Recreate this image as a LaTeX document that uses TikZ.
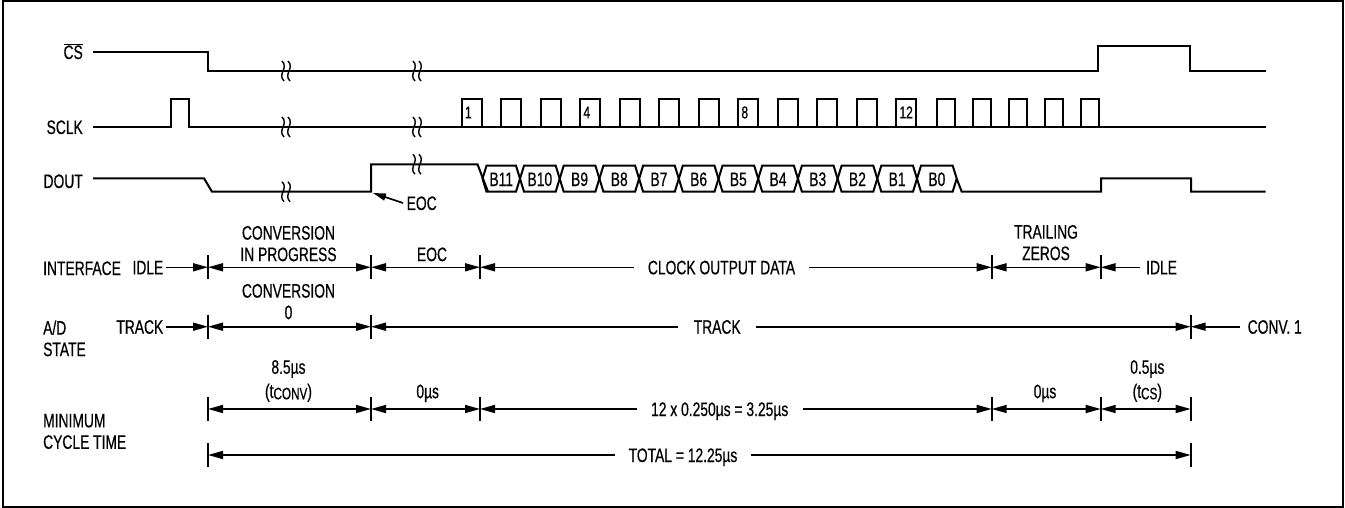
\documentclass[tikz,border=0pt]{standalone}
\usepackage{fontspec}
\setmainfont{Liberation Sans}[FakeStretch=0.71, FakeBold=0.5]
\usetikzlibrary{arrows.meta}
\newcommand\lbfont{\fontsize{19.5}{21.5}\selectfont}
\newcommand\numfont{\fontsize{17}{17}\selectfont}
\newcommand\lowcaps[1]{\raisebox{-1.5pt}{\fontsize{16.5}{16.5}\selectfont #1}}
\tikzset{
	wave/.style={line width=2pt},
	tk/.style={line width=1.6pt},
	dim/.style={line width=1.6pt, {Triangle[length=15pt,width=8pt]}-{Triangle[length=15pt,width=8pt]}},
	dimr/.style={line width=1.6pt, -{Triangle[length=15pt,width=8pt]}},
	diml/.style={line width=1.6pt, {Triangle[length=15pt,width=8pt]}-},
	lbl/.style={font=\lbfont, inner sep=0pt, text height=14pt, text depth=0pt},
	gap/.style={lbl, minimum width=#1},
	over/.style={font=\lbfont, inner sep=0pt, align=center, anchor=south},
	stack/.style={font=\lbfont, inner sep=0pt, align=left, anchor=north west},
	num/.style={font=\numfont, inner sep=0pt, anchor=base west},
}
\begin{document}
\begin{tikzpicture}[x=1pt, y=-1pt]
\useasboundingbox (0,0) rectangle (1345,508);
\draw[line width=2pt] (2.5,1.5) rectangle (1342.5,506.5);

\def\brk#1#2{% {x}{y}
	\foreach \d in {-3,3}
		\draw[line width=1.4pt] (#1-1+\d,#2-10) .. controls (#1+6+\d,#2-3) and (#1-6+\d,#2+3) .. (#1+1+\d,#2+10)
}
\def\tick#1#2{\draw[tk] (#1 |- #2) ++(0,-12) -- ++(0,24)}

% signals
\node[lbl, anchor=east] (cs) at (83,52) {$\overline{\mbox{CS}}$};
\node[lbl, anchor=east] (sclk) at (83,127) {SCLK};
\node[lbl, anchor=east] (dout) at (83,181) {DOUT};

\draw[wave] (93,52) -- (207.5,52) -- (207.5,71) -- (1098,71) -- (1098,45.7) -- (1190,45.7) -- (1190,71) -- (1265.7,71);
\draw[wave] (93,127) -- (170.7,127) -- (170.7,99) -- (189.3,99) -- (189.3,127) -- (1265.7,127);
\foreach \i in {0,...,11}
	\draw[wave] ({461.7+39.5*\i},127) |- ({481.7+39.5*\i},99) -- ++(0,28);
\foreach \i in {0,...,4}
	\draw[wave] ({937.3+36*\i},127) |- ({955.3+36*\i},99) -- ++(0,28);
\foreach \n/\i in {1/0, 4/3, 8/7, 12/11}
	\node[num] (n\n) at ({464.7+39.5*\i},118.3) {\n};

\draw[wave] (93,178.3) -- (204,178.3) -- (212,191.7) -- (371,191.7) -- (371,164.3) -- (477.5,164.3) -- (488,191.7);
\draw[wave] (956.7,178.7) -- (961.7,191.7) -- (1101,191.7) -- (1101,178.3) -- (1191,178.3) -- (1191,191.7) -- (1265.7,191.7);
\foreach \b [count=\i] in {11,...,0} {
	\pgfmathsetmacro\xl{max(482.5,520+39.7*(\i-2))}
	\pgfmathsetmacro\xr{520+39.7*(\i-1)}
	\draw[wave] (\xl,178.7) -- (\xl+4,165.7) -- (\xr-4,165.7) -- (\xr,178.7) -- (\xr-4,191.7) -- (\xl+4,191.7) -- cycle;
	\node[lbl] (b\b) at ({(\xl+\xr)/2},179) {B\b};
}

\foreach \y in {71,127,191.7} \brk{286}{\y};
\foreach \y in {71,127,164.3} \brk{417}{\y};

\coordinate (eocpt) at (373,193);
\node[lbl, anchor=west, inner xsep=3.5pt] (eoc) at (403,203) {EOC};
\draw[line width=1.6pt, -{Triangle[length=13pt,width=7pt]}] (eoc.west) -- (eocpt);

% time marks and rows
\coordinate (t0) at (208,0);
\coordinate (t1) at (371,0);
\coordinate (t2) at (480,0);
\coordinate (t3) at (991.7,0);
\coordinate (t4) at (1100.7,0);
\coordinate (t5) at (1190.7,0);
\coordinate (rI) at (0,267.3);
\coordinate (rA) at (0,326.7);
\coordinate (rM) at (0,409);
\coordinate (rT) at (0,455);

\foreach \t in {t0,t1,t2,t3,t4} \tick{\t}{rI};
\foreach \t in {t0,t1,t5} \tick{\t}{rA};
\foreach \t in {t0,t1,t2,t3,t4,t5} \tick{\t}{rM};
\foreach \t in {t0,t5} \tick{\t}{rT};

% interface
\node[lbl, anchor=west] (iface) at (43,268) {INTERFACE};
\node[lbl, anchor=east, inner xsep=2pt] (idle0) at (165.5,267.3) {IDLE};
\node[over] (cip) at (288.5,261.5) {CONVERSION\\IN PROGRESS};
\node[over] (eocl) at (432,261.5) {EOC};
\node[gap=175pt] (clk) at (721.5,267.3) {CLOCK OUTPUT DATA};
\node[over] (tz) at (1046,260.5) {TRAILING\\ZEROS};
\node[lbl, anchor=west, inner xsep=6.5pt] (idle1) at (1139.5,267.3) {IDLE};
\draw[dimr] (idle0.east) -- (t0 |- rI);
\draw[dim] (t0 |- rI) -- (t1 |- rI);
\draw[dim] (t1 |- rI) -- (t2 |- rI);
\draw[diml] (t2 |- rI) -- (clk.west);
\draw[dimr] (clk.east) -- (t3 |- rI);
\draw[dim] (t3 |- rI) -- (t4 |- rI);
\draw[diml] (t4 |- rI) -- (idle1.west);

% A/D state
\node[stack] (ad) at (43,320.3) {A/D\\STATE};
\node[lbl, anchor=east, inner xsep=2pt] (trk0) at (165.5,326.7) {TRACK};
\node[over] (conv0) at (288.5,319.5) {CONVERSION\\0};
\node[gap=77.7pt] (trk) at (717.2,326.7) {TRACK};
\node[lbl, anchor=west, inner xsep=7.5pt] (conv1) at (1240,326.7) {CONV. 1};
\draw[dimr] (trk0.east) -- (t0 |- rA);
\draw[dim] (t0 |- rA) -- (t1 |- rA);
\draw[diml] (t1 |- rA) -- (trk.west);
\draw[dimr] (trk.east) -- (t5 |- rA);
\draw[diml] (t5 |- rA) -- (conv1.west);

% cycle time
\node[stack] (mct) at (43,413.7) {MINIMUM\\CYCLE TIME};
\node[over] (tconv) at (288.5,402) {8.5µs\\[2.5pt](t\lowcaps{CONV})};
\node[over] (z0) at (427.7,402.4) {0µs};
\node[gap=166pt] (clks) at (719.7,409) {12 x 0.250µs = 3.25µs};
\node[over] (z1) at (1045,402.4) {0µs};
\node[over] (tcs) at (1147.3,402) {0.5µs\\[2.5pt](t\lowcaps{CS})};
\draw[dim] (t0 |- rM) -- (t1 |- rM);
\draw[dim] (t1 |- rM) -- (t2 |- rM);
\draw[diml] (t2 |- rM) -- (clks.west);
\draw[dimr] (clks.east) -- (t3 |- rM);
\draw[dim] (t3 |- rM) -- (t4 |- rM);
\draw[dim] (t4 |- rM) -- (t5 |- rM);

\node[gap=136pt] (tot) at (683,455) {TOTAL = 12.25µs};
\draw[diml] (t0 |- rT) -- (tot.west);
\draw[dimr] (tot.east) -- (t5 |- rT);
\end{tikzpicture}
\end{document}
